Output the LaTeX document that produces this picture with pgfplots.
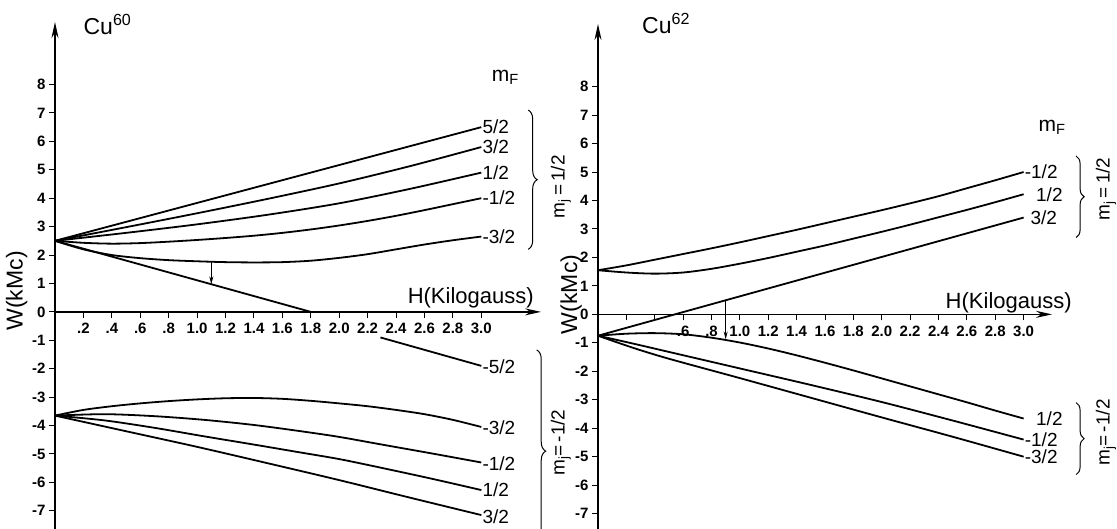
\documentclass[border=0pt]{standalone}
\usepackage{fontspec}
\setmainfont{Liberation Sans}
\usepackage{pgfplots}
\pgfplotsset{compat=1.18}
\usetikzlibrary{arrows.meta,decorations.pathreplacing}

\pgfplotsset{
  zeeman/.style={
    scale only axis, clip=false, enlargelimits=false,
    axis x line=middle, axis y line=left,
    axis line style={line width=1.6pt, -{Stealth[length=16pt,width=7pt]}},
    tick align=outside, major tick length=6pt,
    tick style={line width=1pt, black},
    ytick={-7,-6,...,8},
    yticklabels={-7,-6,-5,-4,-3,-2,-1,0,1,2,3,4,5,6,7,8},
    xtick={0.2,0.4,...,3.0},
    ticklabel style={font=\fontsize{15}{15}\selectfont\bfseries},
    xticklabel style={yshift=-2pt},
    /pgf/number format/assume math mode=true,
    cycle list={{black,solid}},
    every axis plot/.append style={line width=1.8pt, black, no marks},
  },
}
\tikzset{lbl/.style={font=\fontsize{19}{19}\selectfont}}

\begin{document}
\begin{tikzpicture}
\useasboundingbox (0pt,0pt) rectangle (1117pt,529pt);

% ---- Cu60 ----
\begin{axis}[zeeman, at={(55pt,0pt)}, anchor=south west,
  width=486pt, height=507pt, xmin=0, xmax=3.42, ymin=-7.64, ymax=10.2,
  xticklabels={.2,.4,.6,.8,1.0,1.2,1.4,1.6,1.8,2.0,2.2,2.4,2.6,2.8,3.0}]
\addplot[black] coordinates {(0,2.5)(1.5,4.5)(3.0,6.5)};
\addplot[smooth] coordinates {(0,2.5)(0.5,2.98)(1.0,3.47)(1.5,3.98)(2.0,4.52)(2.5,5.13)(3.0,5.8)};
\addplot[smooth] coordinates {(0,2.5)(0.5,2.78)(1.0,3.08)(1.5,3.42)(2.0,3.82)(2.5,4.33)(3.0,4.9)};
\addplot[smooth] coordinates {(0,2.5)(0.2,2.43)(0.4,2.4)(0.6,2.42)(0.8,2.47)(1.0,2.53)(1.2,2.6)(1.4,2.68)(1.6,2.78)(1.8,2.9)(2.0,3.04)(2.2,3.2)(2.4,3.38)(2.6,3.58)(2.8,3.79)(3.0,4.0)};
\addplot[smooth] coordinates {(0,2.5)(0.2,2.2)(0.4,2.0)(0.6,1.89)(0.8,1.82)(1.0,1.78)(1.2,1.75)(1.4,1.74)(1.6,1.75)(1.8,1.8)(2.0,1.9)(2.2,2.03)(2.4,2.2)(2.6,2.37)(2.8,2.52)(3.0,2.65)};
\addplot[black] coordinates {(0,2.5)(1.8,0)};
\addplot[black] coordinates {(2.29,-0.9)(3.0,-1.9)};
\addplot[line width=1pt, -{Stealth[length=8pt,width=4pt]}] coordinates {(1.1,1.76)(1.1,0.97)};
% m_j = -1/2
\addplot[smooth] coordinates {(0,-3.65)(0.2,-3.45)(0.4,-3.32)(0.6,-3.22)(0.8,-3.14)(1.0,-3.08)(1.2,-3.04)(1.4,-3.03)(1.6,-3.06)(1.8,-3.13)(2.0,-3.22)(2.2,-3.32)(2.4,-3.45)(2.6,-3.6)(2.8,-3.8)(3.0,-4.05)};
\addplot[smooth] coordinates {(0,-3.65)(0.35,-3.6)(0.7,-3.67)(1.05,-3.8)(1.4,-3.98)(1.73,-4.2)(2.0,-4.4)(2.29,-4.66)(2.65,-4.98)(3.0,-5.3)};
\addplot[smooth] coordinates {(0,-3.65)(0.35,-3.82)(0.7,-4.08)(1.05,-4.38)(1.4,-4.67)(1.73,-4.95)(2.0,-5.18)(2.29,-5.48)(2.65,-5.87)(3.0,-6.27)};
\addplot[smooth] coordinates {(0,-3.65)(0.5,-4.2)(1.0,-4.75)(1.5,-5.33)(2.0,-5.92)(2.5,-6.54)(3.0,-7.15)};

\node[lbl, anchor=west, inner sep=1pt] at (axis cs:3.0,6.5) {5/2};
\node[lbl, anchor=west, inner sep=1pt] at (axis cs:3.0,5.8) {3/2};
\node[lbl, anchor=west, inner sep=1pt] at (axis cs:3.0,4.9) {1/2};
\node[lbl, anchor=west, inner sep=1pt] at (axis cs:3.0,4.0) {-1/2};
\node[lbl, anchor=west, inner sep=1pt] at (axis cs:3.0,2.65) {-3/2};
\node[lbl, anchor=west, inner sep=1pt] at (axis cs:3.0,-1.94) {-5/2};
\node[lbl, anchor=west, inner sep=1pt] at (axis cs:3.0,-4.08) {-3/2};
\node[lbl, anchor=west, inner sep=1pt] at (axis cs:3.0,-5.35) {-1/2};
\node[lbl, anchor=west, inner sep=1pt] at (axis cs:3.0,-6.27) {1/2};
\node[lbl, anchor=west, inner sep=1pt] at (axis cs:3.0,-7.2) {3/2};
\draw[decorate, decoration={brace, amplitude=9pt}, line width=1pt] (axis cs:3.33,7.1) -- (axis cs:3.33,2.2);
\draw[decorate, decoration={brace, amplitude=9pt}, line width=1pt] (axis cs:3.39,-1.34) -- (axis cs:3.39,-8.46);
\node[lbl, rotate=90] at (axis cs:3.56,4.4) {m\textsubscript{j}\,=\,1/2};
\node[lbl, rotate=90] at (axis cs:3.56,-4.6) {m\textsubscript{j}=\,-1/2};
\node[font=\fontsize{21}{21}\selectfont, anchor=base] at (axis cs:3.17,8.1) {m\textsubscript{F}};
\node[font=\fontsize{22}{22}\selectfont, anchor=base east, inner sep=0pt] at (axis cs:3.37,0.28) {H(Kilogauss)};
\node[font=\fontsize{23}{23}\selectfont, rotate=90] at (axis cs:-0.27,0.74) {W(kMc)};
\node[font=\fontsize{23}{23}\selectfont, anchor=base west, inner sep=0pt] at (axis cs:0.2,9.75) {Cu\textsuperscript{60}};
\end{axis}

% ---- Cu62 ----
\begin{axis}[zeeman, at={(598pt,0pt)}, anchor=south west,
  width=454pt, height=505pt, xmin=0, xmax=3.2, ymin=-7.54, ymax=10.2,
  xticklabels={,,.6,.8,1.0,1.2,1.4,1.6,1.8,2.0,2.2,2.4,2.6,2.8,3.0}]
\addplot[smooth] coordinates {(0,1.55)(0.2,1.72)(0.4,1.92)(0.6,2.12)(0.8,2.32)(1.0,2.53)(1.2,2.75)(1.4,2.97)(1.6,3.2)(1.8,3.43)(2.0,3.66)(2.2,3.9)(2.4,4.15)(2.6,4.43)(2.8,4.71)(3.0,5.0)};
\addplot[smooth] coordinates {(0,1.55)(0.2,1.47)(0.4,1.43)(0.6,1.47)(0.8,1.6)(1.0,1.78)(1.2,1.98)(1.4,2.2)(1.6,2.42)(1.8,2.66)(2.0,2.9)(2.2,3.15)(2.4,3.41)(2.6,3.67)(2.8,3.94)(3.0,4.22)};
\addplot[black] coordinates {(0,-0.75)(3.0,3.4)};
\addplot[smooth] coordinates {(0,-0.75)(0.2,-0.68)(0.4,-0.66)(0.6,-0.7)(0.8,-0.82)(1.0,-0.99)(1.2,-1.2)(1.4,-1.44)(1.6,-1.7)(1.8,-1.97)(2.0,-2.25)(2.2,-2.53)(2.4,-2.81)(2.6,-3.09)(2.8,-3.38)(3.0,-3.66)};
\addplot[smooth] coordinates {(0,-0.75)(0.25,-1.03)(0.5,-1.32)(1.0,-1.9)(1.5,-2.48)(2.0,-3.08)(2.5,-3.73)(3.0,-4.4)};
\addplot[smooth] coordinates {(0,-0.75)(0.25,-1.18)(0.5,-1.56)(1.0,-2.24)(1.5,-2.93)(2.0,-3.62)(2.5,-4.3)(3.0,-5.0)};
\addplot[line width=1pt, -{Stealth[length=8pt,width=4pt]}] coordinates {(0.9,0.5)(0.9,-0.88)};

\node[lbl, anchor=west, inner sep=1pt] at (axis cs:3.0,5.0) {-1/2};
\node[lbl, anchor=west, inner sep=1pt] at (axis cs:3.08,4.22) {1/2};
\node[lbl, anchor=west, inner sep=1pt] at (axis cs:3.04,3.4) {3/2};
\node[lbl, anchor=west, inner sep=1pt] at (axis cs:3.08,-3.66) {1/2};
\node[lbl, anchor=west, inner sep=1pt] at (axis cs:3.0,-4.4) {-1/2};
\node[lbl, anchor=west, inner sep=1pt] at (axis cs:3.0,-5.0) {-3/2};
\draw[decorate, decoration={brace, amplitude=8pt}, line width=1pt] (axis cs:3.37,5.56) -- (axis cs:3.37,2.7);
\draw[decorate, decoration={brace, amplitude=8pt}, line width=1pt] (axis cs:3.37,-3.1) -- (axis cs:3.37,-5.63);
\node[lbl, rotate=90] at (axis cs:3.58,4.4) {m\textsubscript{j}\,=\,1/2};
\node[lbl, rotate=90] at (axis cs:3.58,-4.15) {m\textsubscript{j}=\,-1/2};
\node[font=\fontsize{21}{21}\selectfont, anchor=base] at (axis cs:3.2,6.44) {m\textsubscript{F}};
\node[font=\fontsize{22}{22}\selectfont, anchor=base east, inner sep=0pt] at (axis cs:3.34,0.22) {H(Kilogauss)};
\node[font=\fontsize{23}{23}\selectfont, rotate=90] at (axis cs:-0.19,0.7) {W(kMc)};
\node[font=\fontsize{23}{23}\selectfont, anchor=base west, inner sep=0pt] at (axis cs:0.31,9.86) {Cu\textsuperscript{62}};
\end{axis}
\end{tikzpicture}
\end{document}
